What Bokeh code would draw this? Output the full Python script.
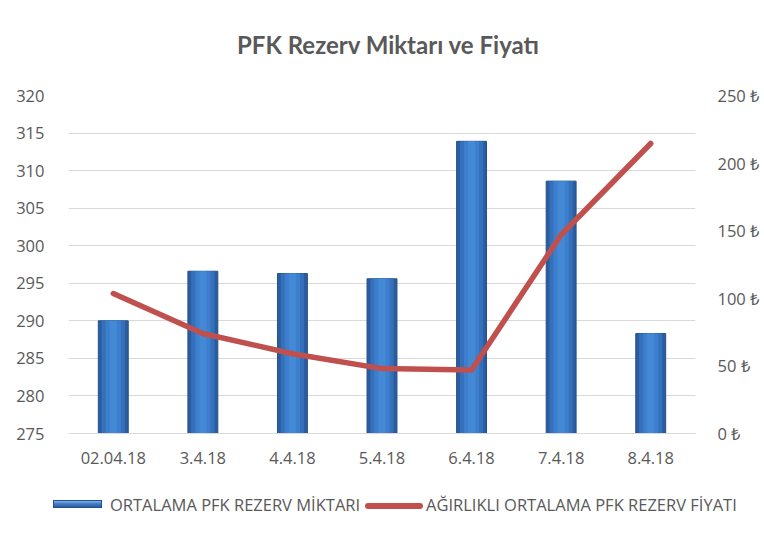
from bokeh.plotting import figure
from bokeh.layouts import column
from bokeh.models import Range1d, LinearAxis, FixedTicker, CustomJSTickFormatter, ColumnDataSource, Div
from bokeh.embed import file_html
from bokeh.resources import INLINE

dates = ["02.04.18", "3.4.18", "4.4.18", "5.4.18", "6.4.18", "7.4.18", "8.4.18"]
miktar = [290.0, 296.6, 296.3, 295.6, 313.9, 308.6, 288.3]
fiyat = [103.5, 74.0, 59.0, 48.0, 47.0, 147.0, 214.5]
left_ticks = [275, 280, 285, 290, 295, 300, 305, 310, 315, 320]
right_ticks = [0, 50, 100, 150, 200, 250]
series_names = ["ORTALAMA PFK REZERV MİKTARI", "AĞIRLIKLI ORTALAMA PFK REZERV FİYATI"]
chart_title = "PFK Rezerv Miktarı ve Fiyatı"

src = ColumnDataSource(dict(x=dates, m=miktar, f=fiyat))

FONT = "Open Sans"
GRAY = "#595959"
TICK_SIZE = "16.5px"
BAR_FILL, BAR_LINE = "#2b5d9e", "#24508a"
LINE_COLOR = "#c0504d"
W = 762

title_div = Div(
    text=(f'<div style="box-sizing:border-box;width:{W}px;height:60px;padding-top:33px;'
          f'padding-left:14px;text-align:center;font-family:Lato;font-weight:bold;'
          f'font-size:24px;line-height:24px;color:{GRAY};white-space:nowrap;">{chart_title}</div>'),
    width=W, height=60, margin=0)

p = figure(width=W, height=420, x_range=dates, y_range=Range1d(275, 320),
           output_backend="svg", toolbar_location=None,
           min_border_left=68, min_border_right=65, min_border_top=35, min_border_bottom=47)
p.margin = 0
p.title.text = ""
p.extra_y_ranges = {"price": Range1d(0, 250)}

p.outline_line_color = None
p.xgrid.grid_line_color = None
p.ygrid.grid_line_color = "#d9d9d9"
p.ygrid.grid_line_width = 1
p.ygrid.ticker = FixedTicker(ticks=left_ticks)

for ax in [p.yaxis[0], p.xaxis[0]]:
    ax.axis_line_color = None
    ax.major_tick_line_color = None
    ax.minor_tick_line_color = None
    ax.major_label_text_font = FONT
    ax.major_label_text_font_size = TICK_SIZE
    ax.major_label_text_color = GRAY

p.yaxis[0].ticker = FixedTicker(ticks=left_ticks)
p.yaxis[0].major_label_standoff = 18
p.xaxis[0].axis_line_color = "#d9d9d9"
p.xaxis[0].major_label_standoff = 12

ra = LinearAxis(y_range_name="price", ticker=FixedTicker(ticks=right_ticks),
                formatter=CustomJSTickFormatter(code="return tick + ' \u20ba';"))
ra.axis_line_color = None
ra.major_tick_line_color = None
ra.minor_tick_line_color = None
ra.major_label_text_font = FONT
ra.major_label_text_font_size = TICK_SIZE
ra.major_label_text_color = GRAY
ra.major_label_standoff = 16
p.add_layout(ra, "right")

p.vbar(x="x", top="m", bottom=275, width=0.334, source=src,
       fill_color=BAR_FILL, line_color=BAR_LINE, line_width=1)
p.vbar(x="x", top="m", bottom=275, width=0.26, source=src, fill_color="#3470bb", line_color=None)
p.vbar(x="x", top="m", bottom=275, width=0.17, source=src, fill_color="#3d7fcc", line_color=None)
p.vbar(x="x", top="m", bottom=275, width=0.08, source=src, fill_color="#4489d6", line_color=None)

p.line(x="x", y="f", source=src, y_range_name="price", line_color=LINE_COLOR,
       line_width=5.5, line_cap="round", line_join="round")

txt = f"position:absolute;top:15px;font-family:'{FONT}';font-size:16.5px;line-height:20px;color:{GRAY};white-space:nowrap;"
legend_html = (
    f'<div style="position:relative;width:{W}px;height:51px;">'
    f'<div style="position:absolute;left:53px;top:20px;width:49px;height:8px;border:1px solid {BAR_LINE};'
    f'background:linear-gradient(to bottom,#8db6e8 0%,#4a86d0 35%,#3470bb 70%,#2b5d9e 100%);"></div>'
    f'<div style="{txt}left:110px;">{series_names[0]}</div>'
    f'<div style="position:absolute;left:365px;top:23px;width:58px;height:6px;border-radius:3px;background:{LINE_COLOR};"></div>'
    f'<div style="{txt}left:426px;">{series_names[1]}</div>'
    f'</div>')
legend_div = Div(text=legend_html, width=W, height=51, margin=0)

layout = column(title_div, p, legend_div, spacing=0)
open("out.html", "w").write(file_html(layout, INLINE))
